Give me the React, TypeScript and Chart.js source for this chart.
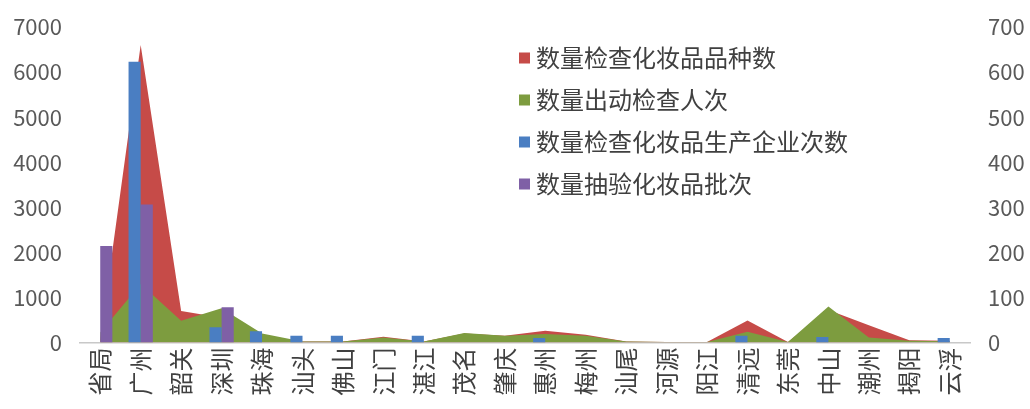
import React, { useEffect, useRef } from "react";
import { Chart, registerables } from "chart.js";

Chart.register(...registerables);

const categories = ["省局", "广州", "韶关", "深圳", "珠海", "汕头", "佛山", "江门", "湛江", "茂名", "肇庆", "惠州", "梅州", "汕尾", "河源", "阳江", "清远", "东莞", "中山", "潮州", "揭阳", "云浮"];

const seriesNames = ["数量检查化妆品品种数", "数量出动检查人次", "数量检查化妆品生产企业次数", "数量抽验化妆品批次"];

// left axis
const varietyCounts = [80, 6600, 700, 550, 150, 20, 20, 130, 20, 200, 150, 260, 170, 20, 10, 10, 490, 10, 720, 380, 50, 40];
const inspectorTrips = [220, 1300, 480, 760, 200, 20, 20, 110, 20, 210, 150, 190, 150, 20, 10, 10, 240, 10, 800, 110, 40, 30];
// right axis
const enterpriseChecks = [0, 623, 0, 34, 25, 15, 15, 0, 15, 0, 0, 10, 0, 0, 0, 0, 15, 0, 12, 0, 0, 10];
const sampledBatches = [214, 306, 0, 78, 0, 0, 0, 0, 0, 0, 0, 0, 0, 0, 0, 0, 0, 0, 0, 0, 0, 0];

const leftTicks = [0, 1000, 2000, 3000, 4000, 5000, 6000, 7000];
const rightTicks = [0, 100, 200, 300, 400, 500, 600, 700];

const COLORS = ["#C64B48", "#7D9C3F", "#4A7EC2", "#7F60A6"];
const FONT = '"Noto Sans CJK SC", "Noto Sans", sans-serif';

const insideLegend = {
  id: "insideLegend",
  afterDraw(chart: any) {
    const ctx = chart.ctx;
    ctx.save();
    ctx.font = `24px ${FONT}`;
    ctx.textBaseline = "middle";
    ctx.textAlign = "left";
    chart.data.datasets.forEach((ds: any, i: number) => {
      const y = 58 + i * 42;
      ctx.fillStyle = COLORS[i];
      ctx.fillRect(519, y - 5.5, 11, 11);
      ctx.fillStyle = "#404040";
      ctx.fillText(ds.label, 536, y);
    });
    ctx.restore();
  },
};

export default function App() {
  const ref = useRef<HTMLCanvasElement | null>(null);
  useEffect(() => {
    if (!ref.current) return;
    Chart.defaults.font.family = FONT;
    const chart = new Chart(ref.current, {
      type: "bar",
      data: {
        labels: categories,
        datasets: [
          {
            type: "line",
            label: seriesNames[0],
            data: varietyCounts,
            yAxisID: "y",
            fill: "origin",
            backgroundColor: COLORS[0],
            borderColor: "rgba(0,0,0,0)",
            borderWidth: 0,
            pointRadius: 0,
            tension: 0,
            order: 2,
          } as any,
          {
            type: "line",
            label: seriesNames[1],
            data: inspectorTrips,
            yAxisID: "y",
            fill: "origin",
            backgroundColor: COLORS[1],
            borderColor: "rgba(0,0,0,0)",
            borderWidth: 0,
            pointRadius: 0,
            tension: 0,
            order: 1,
          } as any,
          {
            type: "bar",
            label: seriesNames[2],
            data: enterpriseChecks,
            yAxisID: "y1",
            backgroundColor: COLORS[2],
            categoryPercentage: 0.6,
            barPercentage: 1,
            order: 0,
          },
          {
            type: "bar",
            label: seriesNames[3],
            data: sampledBatches,
            yAxisID: "y1",
            backgroundColor: COLORS[3],
            categoryPercentage: 0.6,
            barPercentage: 1,
            order: 0,
          },
        ],
      },
      options: {
        responsive: false,
        animation: false,
        devicePixelRatio: 1,
        layout: { padding: { top: 27, left: 0, right: 0, bottom: 0 } },
        plugins: {
          legend: { display: false },
          tooltip: { enabled: false },
        },
        scales: {
          x: {
            offset: true,
            grid: { display: false, drawTicks: false },
            border: { display: true, color: "#C8C8C8", width: 1.5 },
            ticks: {
              color: "#404040",
              font: { size: 24, family: FONT },
              minRotation: 90,
              maxRotation: 90,
              autoSkip: false,
              padding: 5,
            },
            afterFit: (s: any) => {
              s.height = 66.5;
            },
          },
          y: {
            position: "left",
            min: 0,
            max: 7000,
            afterBuildTicks: (s: any) => {
              s.ticks = leftTicks.map((v) => ({ value: v }));
            },
            grid: { display: false, drawTicks: false },
            border: { display: false },
            ticks: {
              color: "#595959",
              font: { size: 22, family: FONT },
              padding: 18,
              callback: (v: any) => String(v),
            },
            afterFit: (s: any) => {
              s.width = 80;
              s.paddingTop = 10;
              s.paddingBottom = 10;
            },
          },
          y1: {
            position: "right",
            min: 0,
            max: 700,
            afterBuildTicks: (s: any) => {
              s.ticks = rightTicks.map((v) => ({ value: v }));
            },
            grid: { display: false, drawTicks: false },
            border: { display: false },
            ticks: {
              color: "#595959",
              font: { size: 22, family: FONT },
              padding: 18,
              callback: (v: any) => String(v),
            },
            afterFit: (s: any) => {
              s.width = 60;
              s.paddingTop = 10;
              s.paddingBottom = 10;
            },
          },
        },
      },
      plugins: [insideLegend],
    });
    return () => chart.destroy();
  }, []);

  return (
    <div style={{ position: "absolute", left: 0, top: 0, width: 1030, height: 409, background: "#fff" }}>
      <canvas ref={ref} width={1030} height={409} style={{ display: "block" }} />
    </div>
  );
}
